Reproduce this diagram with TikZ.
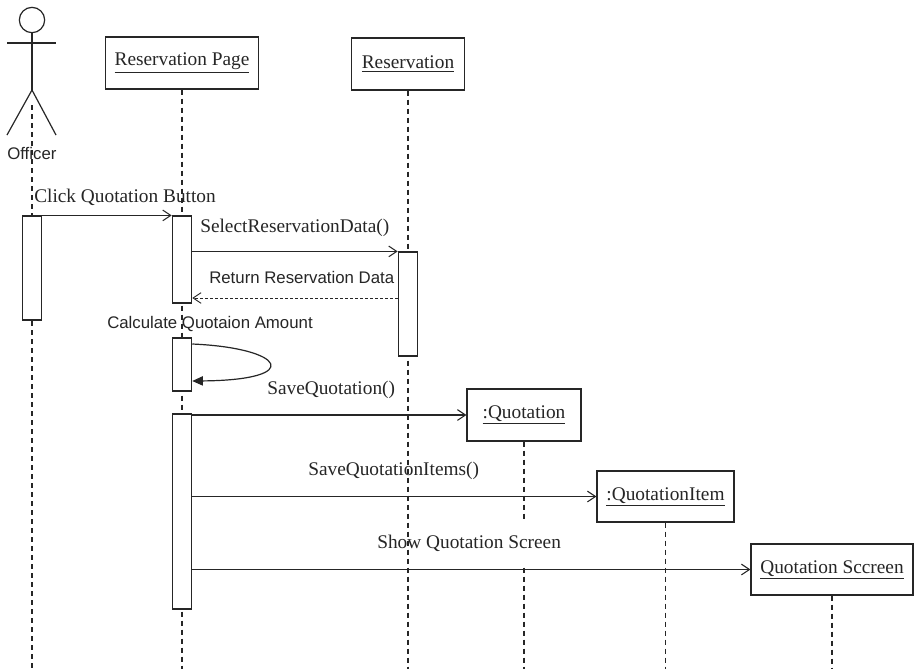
\documentclass[tikz,border=0pt]{standalone}
\usepackage{fontspec}
\setmainfont{Liberation Serif}
\newfontfamily\arialf{Liberation Sans}
\usetikzlibrary{arrows.meta,calc}
\definecolor{ink}{gray}{0.15}
\tikzset{
  serifsz/.style={font=\fontsize{14.5}{17}\selectfont},
  sanssz/.style={font=\arialf\fontsize{12.6}{15}\selectfont},
  objbox/.style={draw=ink, line width=0.9pt, fill=white, inner sep=0pt, serifsz, text=ink},
  actbox/.style={draw=ink, line width=0.9pt, fill=white, inner sep=0pt, minimum width=14.5pt},
  lifeline/.style={draw=ink, line width=0.8pt, dash pattern=on 3.75pt off 3pt},
  msg/.style={draw=ink, line width=0.8pt, -{Straight Barb[length=6pt,width=8pt,line width=0.8pt]}},
  retmsg/.style={draw=ink, line width=0.7pt, dash pattern=on 2.25pt off 1.5pt, -{Straight Barb[length=6pt,width=8pt,line width=0.7pt]}},
  selfmsg/.style={draw=ink, line width=0.9pt, -{Triangle[length=8pt,width=7pt]}},
  lbl/.style={anchor=base west, inner sep=0pt, text=ink, serifsz},
  slbl/.style={anchor=base west, inner sep=0pt, text=ink, sanssz},
  actorline/.style={draw=ink, line width=0.9pt}
}
\begin{document}
\begin{tikzpicture}[x=0.75pt,y=-0.75pt]
\useasboundingbox[fill=white] (0,0) rectangle (916,669);
\coordinate (bot) at (0,669);

% objects
\node[objbox, minimum width=114.75pt, minimum height=39pt] (rp) at (182,63) {\underline{Reservation Page}};
\node[objbox, minimum width=84.75pt, minimum height=39pt] (res) at (408,64) {\underline{Reservation}};
\node[objbox, minimum width=85.5pt, minimum height=39pt] (q) at (524,415) {\underline{:Quotation}};
\node[objbox, minimum width=102.75pt, minimum height=38.25pt] (qi) at (665.5,496.5) {\underline{:QuotationItem}};
\node[objbox, minimum width=121.5pt, minimum height=38.25pt] (qs) at (832,569.5) {\underline{Quotation Sccreen}};

% actor
\coordinate (actor) at (32,20);
\draw[actorline] (actor) circle[radius=9.5pt];
\draw[actorline] (7,43) -- (56,43);
\draw[actorline] (32,32.7) -- (32,90);
\draw[actorline] (7,135) -- (32,90) -- (56,135);
\node[slbl] (officer) at (7,159) {Officer};
\coordinate (offtop) at (32,105);

% lifelines
\draw[lifeline] (q.south) -- (q.south |- bot);
\node[lbl, inner ysep=9.5pt, fill=white] (lshow) at (377,548) {Show Quotation Screen};
\draw[lifeline] (offtop) -- (offtop |- bot);
\draw[lifeline] (rp.south) -- (rp.south |- bot);
\draw[lifeline] (res.south) -- (res.south |- bot);
\draw[lifeline] (qi.south) -- (qi.south |- bot);
\draw[lifeline] (qs.south) -- (qs.south |- bot);

% activations
\node[actbox, minimum height=78pt] (offact) at (32,268) {};
\node[actbox, minimum height=65.25pt] (rpact1) at (182,259.5) {};
\node[actbox, minimum height=78pt] (resact) at (408,304) {};
\node[actbox, minimum height=39.75pt] (rpact2) at (182,364.5) {};
\node[actbox, minimum height=146.25pt] (rpact3) at (182,511.5) {};

% messages
\draw[msg] (offact.north east) -- (rpact1.north west);
\draw[msg] (rpact1.east |- resact.north) -- (resact.north west);
\coordinate (rety) at (0,298);
\draw[retmsg] (resact.west |- rety) -- (rpact1.east |- rety);
\draw[selfmsg] (rpact2.east |- 0,344) .. controls (285,348) and (305,380) .. (rpact2.east |- 0,381);
\draw[msg] (rpact3.east |- q.west) -- (q.west);
\draw[msg] (rpact3.east |- qi.west) -- (qi.west);
\draw[msg] (rpact3.east |- qs.west) -- (qs.west);

% labels
\node[lbl] (lclick) at (34,202) {Click Quotation Button};
\node[lbl] (lsel) at (200,232) {SelectReservationData()};
\node[slbl] (lret) at (209,283) {Return Reservation Data};
\node[slbl] (lcalc) at (107,328) {Calculate Quotaion Amount};
\node[lbl] (lsave) at (267,394) {SaveQuotation()};
\node[lbl] (lsaveitems) at (308,475) {SaveQuotationItems()};
\end{tikzpicture}
\end{document}
